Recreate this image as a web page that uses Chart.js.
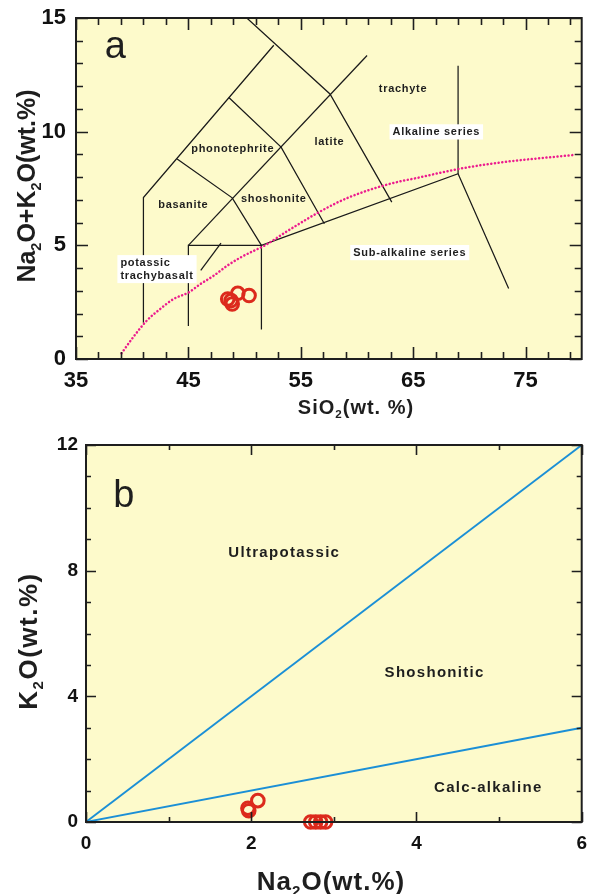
<!DOCTYPE html>
<html>
<head>
<meta charset="utf-8">
<script src="https://cdn.jsdelivr.net/npm/chart.js@4.4.1/dist/chart.umd.min.js"></script>
<style>
  html, body { margin: 0; padding: 0; background: #ffffff; }
  #wrap { position: relative; width: 591px; height: 894px; overflow: hidden; }
  #tas { position: absolute; left: 0; top: 0; }
  #kn  { position: absolute; left: 0; top: 430px; }
</style>
</head>
<body>
<div id="wrap">
  <canvas id="tas" width="591" height="430"></canvas>
  <canvas id="kn" width="591" height="464"></canvas>
</div>
<script>
// ---------- Panel a: total alkali vs. silica (wt.%) ----------
const tasSiO2   = [48.8, 49.4, 50.4, 48.9, 48.5];
const tasAlkali = [2.57, 2.89, 2.79, 2.42, 2.64];

// Alkaline / sub-alkaline dividing curve
const curveSiO2   = [39.05, 40.09, 41.3, 42.49, 43.68, 45.03, 46.08, 47.27, 48.47, 49.66, 50.86, 51.75, 53.85, 56.84, 59.23, 62.82, 65.5, 68.95, 72.7, 79.4];
const curveAlkali = [0.25, 0.96, 1.69, 2.2, 2.64, 2.93, 3.3, 3.67, 4.11, 4.47, 4.77, 4.98, 5.64, 6.52, 7.1, 7.69, 7.98, 8.35, 8.64, 8.98];

// Field boundaries, each a polyline of [SiO2, Na2O+K2O]
const tasBoundaries = [
  [[41, 1.6], [41, 7.1], [52.6, 13.8]],
  [[50.2, 15], [57.6, 11.66], [63.1, 6.9]],
  [[45, 5], [60.9, 13.35]],
  [[44, 8.8], [48.9, 7.09], [51.5, 5]],
  [[48.6, 11.5], [53.25, 9.32], [57.1, 5.95]],
  [[45, 1.45], [45, 5], [51.5, 5], [51.5, 1.3]],
  [[51.5, 5], [69, 8.15], [73.5, 3.1]],
  [[69, 12.9], [69, 8.15]],
  [[46.1, 3.9], [47.9, 5.1]]
];

const tasXLabels = [35, 45, 55, 65, 75];
const tasYLabels = [0, 5, 10, 15];

// ---------- Panel b: K2O vs. Na2O (wt.%) ----------
const na2o = [1.96, 2.08, 1.97, 2.72, 2.78, 2.84, 2.90];
const k2o  = [0.44, 0.68, 0.36, 0, 0, 0, 0];

// Series dividers through the origin, [Na2O, K2O]
const knBoundaries = [
  [[0, 0], [6, 12]],
  [[0, 0], [6, 3]]
];

const knXLabels = [0, 2, 4, 6];
const knYLabels = [0, 4, 8, 12];

// ---------- shared styling ----------
const FONT = '"Liberation Sans", Arial, Helvetica, sans-serif';
const INK = '#1e1e1e';
const FIELD_FILL = '#fdfacb';
const SAMPLE_RED = '#dc2a1c';

function tickList(min, max, step) {
  const out = [];
  for (let v = min; v <= max + 1e-9; v += step) out.push(Math.round(v * 1000) / 1000);
  return out;
}

function toPoints(xs, ys) { return xs.map((v, i) => ({ x: v, y: ys[i] })); }

// Draw a run of text pieces, some of them as subscripts, centred on (cx, cy)
function drawRich(ctx, segs, cx, cy, size, rotate, spacing) {
  ctx.save();
  ctx.translate(cx, cy);
  if (rotate) ctx.rotate(-Math.PI / 2);
  ctx.fillStyle = INK;
  ctx.textAlign = 'left';
  ctx.textBaseline = 'alphabetic';
  ctx.letterSpacing = spacing + 'px';
  let total = 0;
  const parts = segs.map(s => {
    const fs = s.sub ? size * 0.58 : size;
    ctx.font = `bold ${fs}px ${FONT}`;
    const w = ctx.measureText(s.t).width;
    total += w;
    return { s, fs, w };
  });
  let x = -total / 2;
  for (const p of parts) {
    ctx.font = `bold ${p.fs}px ${FONT}`;
    ctx.fillText(p.s.t, x, p.s.sub ? size * 0.22 : 0);
    x += p.w;
  }
  ctx.restore();
}

function decorPlugin(cfg) {
  return {
    id: 'decor_' + cfg.name,
    beforeDatasetsDraw(chart) {
      const { ctx, chartArea: a } = chart;
      ctx.save();
      ctx.fillStyle = FIELD_FILL;
      ctx.fillRect(a.left, a.top, a.right - a.left, a.bottom - a.top);
      ctx.restore();
    },
    afterDatasetsDraw(chart) {
      const { ctx, chartArea: a, scales: { x, y } } = chart;
      ctx.save();

      // field names
      for (const n of cfg.names) {
        ctx.font = `${n.weight || 'bold'} ${n.size}px ${FONT}`;
        ctx.letterSpacing = (n.spacing || 0) + 'px';
        ctx.textAlign = n.align || 'center';
        ctx.textBaseline = n.baseline || 'middle';
        const px = x.getPixelForValue(n.x);
        const py = y.getPixelForValue(n.y);
        const lines = n.text.split('\n');
        const lead = n.lead || n.size * 1.2;
        if (n.box) {
          const w = Math.max(...lines.map(l => ctx.measureText(l).width));
          const h = lines.length * lead;
          const left = n.align === 'left' ? px - 3 : px - w / 2 - 3;
          ctx.fillStyle = '#ffffff';
          ctx.fillRect(left, py - lead / 2 - 1, w + 6, h + 2);
        }
        ctx.fillStyle = n.color || INK;
        lines.forEach((ln, i) => ctx.fillText(ln, px, py + i * lead));
      }

      // frame
      ctx.letterSpacing = '0px';
      ctx.strokeStyle = INK;
      ctx.lineWidth = cfg.frameWidth;
      ctx.strokeRect(a.left, a.top, a.right - a.left, a.bottom - a.top);

      // inward ticks on all four sides
      ctx.lineWidth = 1.6;
      ctx.beginPath();
      for (const t of x.ticks) {
        const p = Math.round(x.getPixelForValue(t.value)) + 0.5;
        const L = t.label ? cfg.major : cfg.minor;
        ctx.moveTo(p, a.bottom); ctx.lineTo(p, a.bottom - L);
        ctx.moveTo(p, a.top);    ctx.lineTo(p, a.top + L);
      }
      for (const t of y.ticks) {
        const p = Math.round(y.getPixelForValue(t.value)) + 0.5;
        const L = t.label ? cfg.major : cfg.minor;
        ctx.moveTo(a.left, p);  ctx.lineTo(a.left + L, p);
        ctx.moveTo(a.right, p); ctx.lineTo(a.right - L, p);
      }
      ctx.stroke();

      // axis titles
      for (const t of cfg.titles) drawRich(ctx, t.segs, t.x, t.y, t.size, t.rotate, t.spacing || 0);
      ctx.restore();
    }
  };
}

function axis(min, max, step, labels, fontSize, pad, fitKey, fitVal) {
  return {
    type: 'linear',
    min, max,
    afterBuildTicks: s => { s.ticks = tickList(min, max, step).map(v => ({ value: v })); },
    afterFit: s => {
      s[fitKey] = fitVal;
      s.paddingLeft = 0; s.paddingRight = 0; s.paddingTop = 0; s.paddingBottom = 0;
    },
    grid: { display: false, drawTicks: false },
    border: { display: false },
    ticks: {
      autoSkip: false,
      maxRotation: 0,
      padding: pad,
      color: '#111111',
      font: { family: FONT, size: fontSize, weight: 'bold' },
      callback: v => labels.includes(v) ? String(v) : ''
    }
  };
}

function sampleSet(points) {
  return {
    data: points,
    showLine: false,
    pointStyle: 'circle',
    pointRadius: 6.3,
    pointBorderWidth: 3,
    pointBorderColor: SAMPLE_RED,
    pointBackgroundColor: 'rgba(0,0,0,0)',
    clip: false
  };
}

function lineSet(poly, color, width, extra) {
  return Object.assign({
    data: poly.map(p => ({ x: p[0], y: p[1] })),
    showLine: true,
    pointRadius: 0,
    borderColor: color,
    borderWidth: width,
    tension: 0
  }, extra || {});
}

// ---------- chart a ----------
const tasDatasets = [sampleSet(toPoints(tasSiO2, tasAlkali))];
tasDatasets.push(lineSet(curveSiO2.map((v, i) => [v, curveAlkali[i]]), '#ec1c8e', 2.5, {
  borderDash: [0.1, 3.6], borderCapStyle: 'round', cubicInterpolationMode: 'monotone'
}));
tasBoundaries.forEach(b => tasDatasets.push(lineSet(b, '#1a1a1a', 1.25)));

new Chart(document.getElementById('tas'), {
  type: 'scatter',
  data: { datasets: tasDatasets },
  options: {
    responsive: false,
    animation: false,
    events: [],
    layout: { padding: { top: 18, right: 9, left: 0, bottom: 0 } },
    plugins: { legend: { display: false }, tooltip: { enabled: false } },
    scales: {
      x: axis(35, 80, 2, tasXLabels, 22, 9, 'height', 71),
      y: axis(0, 15, 1, tasYLabels, 22, 10, 'width', 76)
    }
  },
  plugins: [decorPlugin({
    name: 'tas', frameWidth: 2, major: 12, minor: 7,
    names: [
      { text: 'a', x: 37.55, y: 13.24, size: 38, weight: 'normal', align: 'left', baseline: 'alphabetic' },
      { text: 'phonotephrite', x: 48.95, y: 9.24, size: 11, spacing: 0.7 },
      { text: 'basanite', x: 44.55, y: 6.79, size: 11, spacing: 0.7 },
      { text: 'shoshonite', x: 52.6, y: 7.05, size: 11, spacing: 0.7 },
      { text: 'latite', x: 57.55, y: 9.55, size: 11, spacing: 0.7 },
      { text: 'trachyte', x: 64.1, y: 11.88, size: 11, spacing: 0.7 },
      { text: 'Alkaline series', x: 67.06, y: 9.99, size: 11, spacing: 0.7, box: true },
      { text: 'Sub-alkaline series', x: 64.7, y: 4.68, size: 11, spacing: 0.7, box: true },
      { text: 'potassic\ntrachybasalt', x: 38.95, y: 4.24, size: 11, spacing: 0.7, align: 'left', lead: 13, box: true }
    ],
    titles: [
      { segs: [{ t: 'Na' }, { t: '2', sub: true }, { t: 'O+K' }, { t: '2', sub: true }, { t: 'O(wt.%)' }],
        x: 35, y: 186, size: 25, rotate: true, spacing: 0 },
      { segs: [{ t: 'SiO' }, { t: '2', sub: true }, { t: '(wt. %)' }],
        x: 356, y: 414, size: 20, rotate: false, spacing: 1 }
    ]
  })]
});

// ---------- chart b ----------
const knDatasets = [sampleSet(toPoints(na2o, k2o))];
knBoundaries.forEach(b => knDatasets.push(lineSet(b, '#1b8fd6', 1.8)));

new Chart(document.getElementById('kn'), {
  type: 'scatter',
  data: { datasets: knDatasets },
  options: {
    responsive: false,
    animation: false,
    events: [],
    layout: { padding: { top: 15, right: 9, left: 0, bottom: 0 } },
    plugins: { legend: { display: false }, tooltip: { enabled: false } },
    scales: {
      x: axis(0, 6, 1, knXLabels, 19, 10, 'height', 72),
      y: axis(0, 12, 1, knYLabels, 19, 8, 'width', 86)
    }
  },
  plugins: [decorPlugin({
    name: 'kn', frameWidth: 2, major: 10, minor: 5,
    names: [
      { text: 'b', x: 0.33, y: 10.03, size: 38, weight: 'normal', align: 'left', baseline: 'alphabetic' },
      { text: 'Ultrapotassic', x: 2.4, y: 8.56, size: 15, spacing: 1.3 },
      { text: 'Shoshonitic', x: 4.22, y: 4.74, size: 15, spacing: 1.3 },
      { text: 'Calc-alkaline', x: 4.87, y: 1.08, size: 15, spacing: 1.3 }
    ],
    titles: [
      { segs: [{ t: 'K' }, { t: '2', sub: true }, { t: 'O(wt.%)' }],
        x: 37, y: 211, size: 26, rotate: true, spacing: 1.5 },
      { segs: [{ t: 'Na' }, { t: '2', sub: true }, { t: 'O(wt.%)' }],
        x: 331, y: 460, size: 26, rotate: false, spacing: 1 }
    ]
  })]
});
</script>
</body>
</html>
